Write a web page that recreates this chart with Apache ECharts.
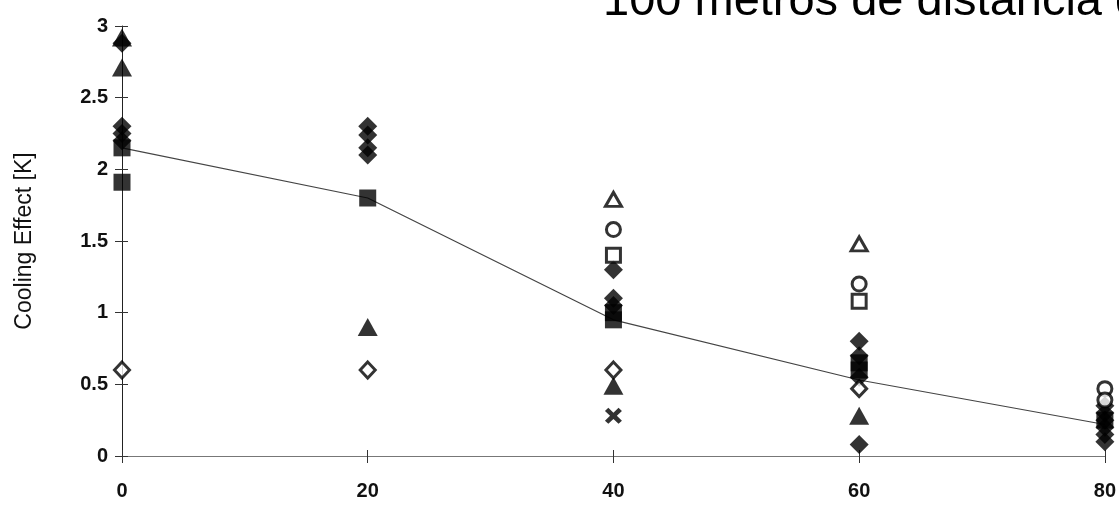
<!DOCTYPE html>
<html><head><meta charset="utf-8">
<script src="https://cdn.jsdelivr.net/npm/echarts@6/dist/echarts.min.js"></script>
<style>html,body{margin:0;padding:0;background:#fff}#c{width:1119px;height:507px}</style>
</head><body><div id="c"></div>
<script>
const titleText = "100 metros de distancia del";
const yAxisName = "Cooling Effect [K]";
const distances = [0, 20, 40, 60, 80];
const meanLine = [2.15, 1.8, 0.95, 0.53, 0.22];
const filledDiamond = [[0,2.88],[0,2.3],[0,2.25],[0,2.2],[20,2.3],[20,2.24],[20,2.15],[20,2.1],[40,1.3],[40,1.1],[40,1.05],[60,0.8],[60,0.7],[60,0.55],[60,0.08],[80,0.35],[80,0.3],[80,0.25],[80,0.2],[80,0.15],[80,0.1]];
const filledTriangle = [[0,2.92],[0,2.71],[20,0.9],[40,0.49],[60,0.28]];
const filledSquare = [[0,2.15],[0,1.91],[20,1.8],[40,1.0],[40,0.95],[60,0.65],[60,0.6],[80,0.25]];
const openDiamond = [[0,0.6],[20,0.6],[40,0.6],[60,0.47]];
const openTriangle = [[40,1.79],[60,1.48]];
const openCircle = [[40,1.58],[60,1.2],[80,0.47],[80,0.39]];
const openSquare = [[40,1.4],[60,1.08]];
const crossMark = [[40,0.28]];

const chart = echarts.init(document.getElementById('c'));
const FONT = '"Liberation Sans", Arial, sans-serif';
const crossPath = 'path://M0,2 L2,0 L5,3 L8,0 L10,2 L7,5 L10,8 L8,10 L5,7 L2,10 L0,8 L3,5 Z';
function filled(data, sym, size){return {type:'scatter',data:data,symbol:sym,symbolSize:size,clip:false,itemStyle:{color:'#000'},z:3};}
function open(data, sym, size){return {type:'scatter',data:data,symbol:sym,symbolSize:size,clip:false,itemStyle:{color:'#fff',borderColor:'#000',borderWidth:3},z:4};}
const axisCommon = {min:0,max:3,interval:0.5};
chart.setOption({
  animation:false,
  backgroundColor:'#fff',
  grid:{left:122,right:13,top:26,bottom:51},
  graphic:[{type:'text',x:603,y:-21,silent:true,style:{text:titleText,font:'47px ' + FONT,fill:'#000',textVerticalAlign:'top'}}],
  xAxis:[
    {type:'value',min:0,max:80,interval:20,
     axisLine:{show:true,lineStyle:{color:'#777',width:1}},
     axisTick:{show:true,length:7,lineStyle:{color:'#333'}},
     axisLabel:{fontSize:20,fontWeight:'bold',color:'#111',margin:25,fontFamily:FONT},
     splitLine:{show:false}},
    {type:'value',min:0,max:80,interval:20,position:'bottom',
     axisLine:{show:false},axisTick:{show:true,inside:true,length:6,lineStyle:{color:'#333'}},
     axisLabel:{show:false},splitLine:{show:false}}
  ],
  yAxis:[
    Object.assign({type:'value',
     name:yAxisName,nameLocation:'middle',nameGap:86,nameRotate:90,
     nameTextStyle:{fontSize:23,color:'#111',fontFamily:FONT},
     axisLine:{show:true,lineStyle:{color:'#222',width:1}},
     axisTick:{show:true,length:7,lineStyle:{color:'#333'}},
     axisLabel:{fontSize:20,fontWeight:'bold',color:'#111',margin:14,fontFamily:FONT},
     splitLine:{show:false}}, axisCommon),
    Object.assign({type:'value',position:'left',
     axisLine:{show:false},axisTick:{show:true,inside:true,length:6,lineStyle:{color:'#333'}},
     axisLabel:{show:false},splitLine:{show:false}}, axisCommon)
  ],
  series:[
    {type:'line',data:distances.map((d,i)=>[d,meanLine[i]]),symbol:'none',lineStyle:{color:'#444',width:1.2},z:2},
    filled(filledDiamond,'diamond',[19,19]),
    filled(filledSquare,'rect',[17,17]),
    filled(filledTriangle,'triangle',[20,18]),
    open(openDiamond,'diamond',[15,16]),
    open(openTriangle,'triangle',[16,14]),
    open(openCircle,'circle',14),
    open(openSquare,'rect',[14,14]),
    filled(crossMark,crossPath,[17,16])
  ]
});
</script></body></html>
